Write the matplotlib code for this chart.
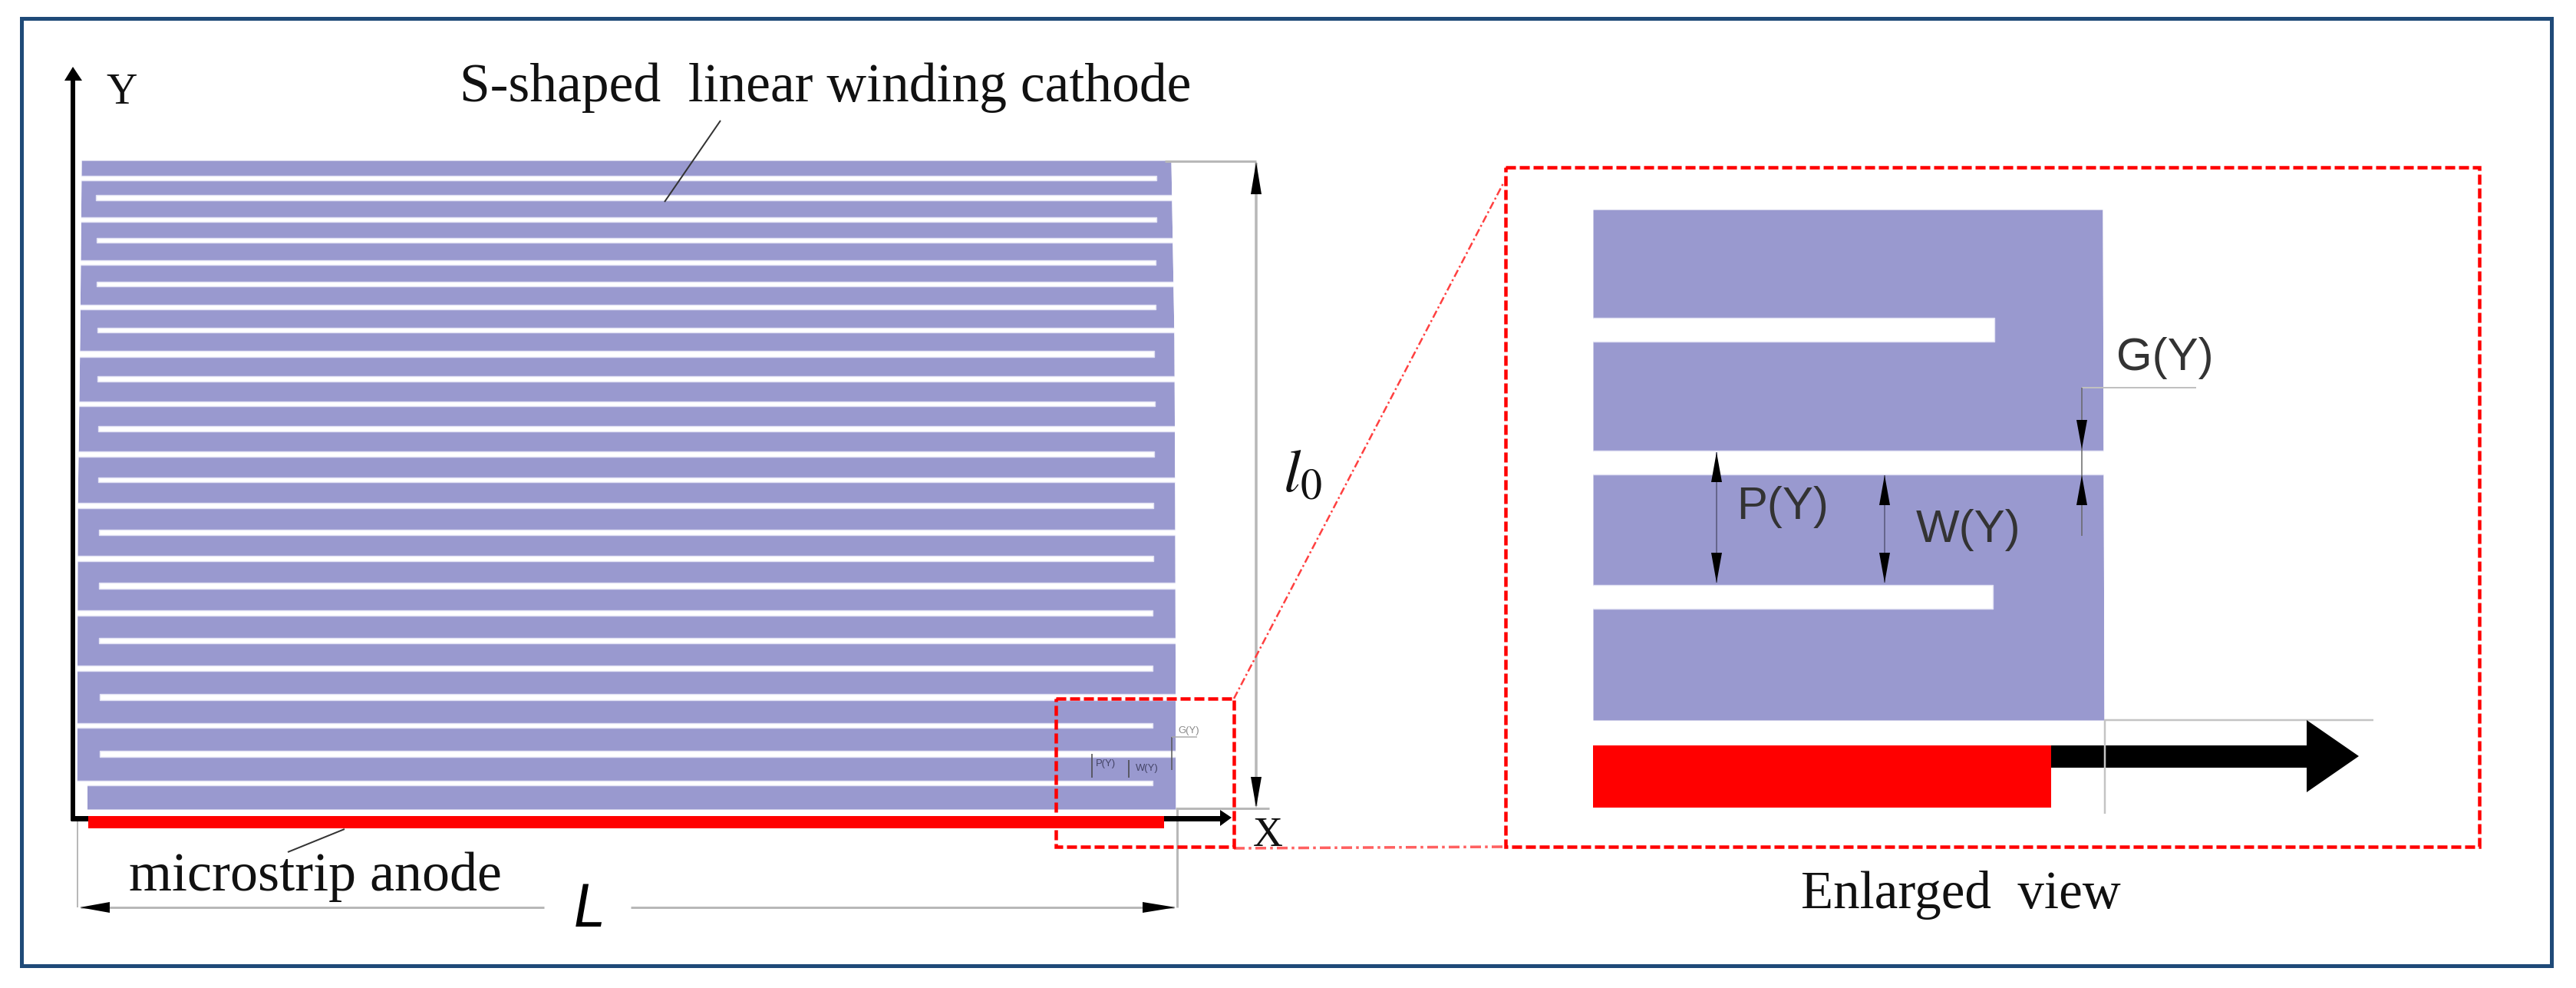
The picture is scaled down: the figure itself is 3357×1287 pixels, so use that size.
#S-shaped cathode diagram
import matplotlib
matplotlib.use('Agg')
import matplotlib.pyplot as plt
from matplotlib.patches import Rectangle

W, H = 3357, 1287
PX = 72 / 100.0  # points per pixel at dpi 100

PURPLE = '#9999cf'
RED = '#ff0000'
GREY = '#b8b8b8'
NAVY = '#1f4a78'

# cathode outline in the main view
edge_y = [209, 440, 660, 1054]
edge_left = [106, 104, 101, 100]
edge_right = [1526, 1530, 1531, 1532]

# slots open on the left
slot_a_top = [229, 283, 339, 397, 457, 523, 588, 655, 724, 795, 867, 942, 1017]
slot_a_bot = [235, 289, 345, 403, 465, 529, 595, 662, 731, 802, 874, 948, 1023]
slot_a_end = [1507, 1507, 1506, 1506, 1504, 1505, 1504, 1503, 1503, 1502, 1502, 1502, 1502]
# slots open on the right
slot_b_top = [254, 310, 367, 427, 490, 555, 622, 690, 759, 831, 904, 978]
slot_b_bot = [261, 316, 373, 433, 497, 562, 628, 697, 767, 838, 912, 986]
slot_b_start = [125, 126, 126, 127, 127, 128, 128, 129, 129, 129, 130, 130]

# enlarged view
zoom_y = [273, 938]
zoom_left = [2076, 2076]
zoom_right = [2740, 2742]
zoom_closed_top = [414, 762]
zoom_closed_bot = [445, 793]
zoom_closed_end = [2599, 2597]
zoom_open_top = 587
zoom_open_bot = 618

labels = ['S-shaped  linear winding cathode', 'microstrip anode', 'Enlarged  view', 'Y', 'X']
label_x = [599, 168, 2347, 138, 1633]
label_y = [132, 1160, 1183, 135, 1102]
label_px = [71.5, 72, 69, 56, 54]

fig = plt.figure(figsize=(W / 100, H / 100), dpi=100)
ax = fig.add_axes([0, 0, 1, 1])
ax.set_xlim(0, W)
ax.set_ylim(H, 0)
ax.axis('off')


def px_line(xs, ys, w=3, c=GREY, **kw):
    ax.plot(xs, ys, color=c, lw=w * PX, solid_capstyle='butt', **kw)


def slot(x0, x1, y0, y1):
    ax.add_patch(Rectangle((x0, y0), x1 - x0, y1 - y0, fc='white', ec='#e2e2f4', lw=1.0, zorder=2))


def vhead(x, tip, base, half=7):
    ax.fill([x, x - half, x + half], [tip, base, base], color='black', lw=0, zorder=6)


def hhead(tip, base, y, half=7):
    ax.fill([tip, base, base], [y, y - half, y + half], color='black', lw=0, zorder=6)


# frame
ax.add_patch(Rectangle((28, 24), 3297, 1234, fc='white', ec=NAVY, lw=5 * PX, zorder=0))

# main cathode
ax.fill_betweenx(edge_y, edge_left, edge_right, color=PURPLE, lw=0, zorder=1)
for t, b, e in zip(slot_a_top, slot_a_bot, slot_a_end):
    slot(90, e, t, b)
for t, b, s in zip(slot_b_top, slot_b_bot, slot_b_start):
    slot(s, 1540, t, b)
# trim the slot ends back to the cathode edges
ax.fill_betweenx(edge_y, edge_right, [1545] * 4, color='white', lw=0, zorder=3)
ax.fill_betweenx(edge_y, [85] * 4, edge_left, color='white', lw=0, zorder=3)
ax.add_patch(Rectangle((98, 1020), 16, 36, fc='white', ec='none', zorder=3))

# axes arrows and anode
px_line([95, 95], [100, 1069], 6, 'black', zorder=5)
ax.fill([95, 84, 107], [87, 105, 105], color='black', lw=0, zorder=6)
px_line([92, 1592], [1066, 1066], 7, 'black', zorder=4)
ax.fill([1605, 1590, 1590], [1065, 1055, 1076], color='black', lw=0, zorder=6)
ax.add_patch(Rectangle((115, 1063), 1402, 16, fc=RED, ec='none', zorder=5))

# l0 dimension
px_line([1518, 1637], [210, 210], 3, zorder=4)
px_line([1532, 1654], [1053, 1053], 3, zorder=4)
px_line([1637, 1637], [212, 1050], 3.5)
vhead(1637, 211, 253)
vhead(1637, 1052, 1012)
ax.text(1672, 640, r'$l_0$', fontsize=80 * PX, color='#111111', ha='left', va='baseline',
        math_fontfamily='stix')

# L dimension
px_line([101, 101], [1070, 1182], 2)
px_line([1534, 1534], [1053, 1182], 3)
px_line([105, 709], [1182, 1182], 3)
px_line([822, 1530], [1182, 1182], 3)
hhead(104, 143, 1182)
hhead(1532, 1489, 1182)
ax.text(748, 1207, 'L', fontsize=78 * PX, style='italic', family='Roboto', color='black',
        ha='left', va='baseline')

# leaders
px_line([939, 866], [157, 263], 2, '#333333', zorder=4)
px_line([449, 375], [1080, 1110], 2, '#333333', zorder=6)

# tiny copies of the dimensions
px_line([1423, 1423], [982, 1013], 1.5, '#444444', zorder=5)
px_line([1471, 1471], [990, 1013], 1.5, '#444444', zorder=5)
px_line([1527, 1527], [960, 1003], 1.5, '#555555', zorder=5)
px_line([1527, 1560], [960, 960], 1.5, '#aaaaaa', zorder=5)
for s, x, y, c in [('P(Y)', 1428, 995, '#444466'), ('W(Y)', 1480, 1001, '#444466'), ('G(Y)', 1535, 952, '#888888')]:
    ax.text(x, y, s, fontsize=13 * PX, family='Liberation Sans', color=c, ha='left', va='center', zorder=5)

# enlarged view shapes
ax.fill_betweenx(zoom_y, zoom_left, zoom_right, color=PURPLE, lw=0, zorder=1)
for t, b, e in zip(zoom_closed_top, zoom_closed_bot, zoom_closed_end):
    slot(2070, e, t, b)
slot(2070, 2750, zoom_open_top, zoom_open_bot)
ax.add_patch(Rectangle((2060, 270), 16, 800, fc='white', ec='none', zorder=3))
ax.fill_betweenx(zoom_y, zoom_right, [2752, 2752], color='white', lw=0, zorder=3)

px_line([2742, 3093], [938, 938], 2.5, '#c4c4c4', zorder=4)
px_line([2743, 2743], [938, 1060], 2.5, '#c4c4c4', zorder=7)
ax.add_patch(Rectangle((2076, 971), 597, 81, fc=RED, ec='none', zorder=5))
ax.add_patch(Rectangle((2673, 971), 334, 29, fc='black', ec='none', zorder=5))
ax.fill([3074, 3006, 3006], [985, 938, 1032], color='black', lw=0, zorder=6)

# G, P, W dimensions
px_line([2713, 2862], [505, 505], 2, '#c0c0c0', zorder=4)
px_line([2713, 2713], [505, 698], 1.5, '#666666', zorder=4)
vhead(2713, 585, 547)
vhead(2713, 619, 658)
px_line([2237, 2237], [589, 759], 1.5, '#555577', zorder=4)
vhead(2237, 589, 628)
vhead(2237, 759, 720)
px_line([2456, 2456], [619, 759], 1.5, '#555577', zorder=4)
vhead(2456, 619, 658)
vhead(2456, 759, 720)
for s, x, y in [('G(Y)', 2758, 466), ('P(Y)', 2263, 660), ('W(Y)', 2497, 690)]:
    ax.text(x, y, s, fontsize=60 * PX, family='Liberation Sans', color='#333333', ha='left',
            va='center', zorder=6)

# dashed boxes
dash = (0, (2.9, 1.1))
for x0, y0, x1, y1 in [(1376, 910, 1608, 1103), (1962, 218, 3231, 1103)]:
    ax.add_patch(Rectangle((x0, y0), x1 - x0, y1 - y0, fc='none', ec=RED, lw=4.5 * PX, ls=dash, zorder=8))
dashdot = (0, (4, 1.5, 1, 1.5))
ax.plot([1608, 1960], [910, 237], color='#ff4040', lw=2.5 * PX, ls=dashdot, zorder=8)
ax.plot([1608, 1962], [1105, 1103], color='#ff6060', lw=3.5 * PX, ls=dashdot, zorder=7)

# labels
for s, x, y, p in zip(labels, label_x, label_y, label_px):
    ax.text(x, y, s, fontsize=p * PX, family='Liberation Serif', color='#111111', ha='left',
            va='baseline', zorder=9)

fig.savefig('out.png', dpi=100, facecolor='white')
